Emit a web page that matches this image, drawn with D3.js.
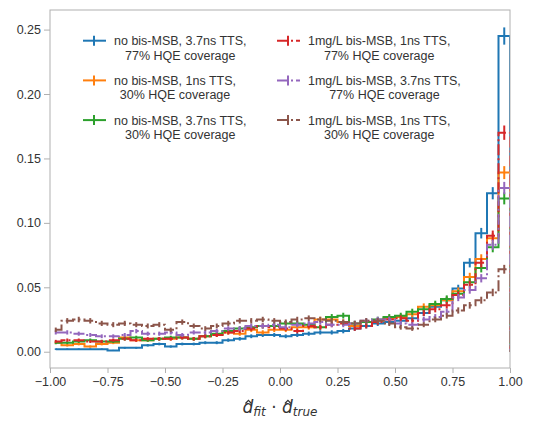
<!DOCTYPE html>
<html>
<head>
<meta charset="utf-8">
<script src="https://cdn.jsdelivr.net/npm/d3@7"></script>
<style>
body { margin: 0; background: #fff; }
</style>
</head>
<body>
<script>
// bins of width 0.05 over [-1, 1]
var binEdges = d3.range(41).map(function (i) { return +(-1 + i * 0.05).toFixed(2); });
var xTicks = [-1, -0.75, -0.5, -0.25, 0, 0.25, 0.5, 0.75, 1];
var yTicks = [0, 0.05, 0.10, 0.15, 0.20, 0.25];

var noMSB37ns77 = [0.002,0.002,0.002,0.002,0.002,0.001,0.003,0.003,0.005,0.006,0.004,0.006,0.006,0.007,0.007,0.009,0.010,0.012,0.013,0.013,0.012,0.013,0.014,0.015,0.015,0.016,0.018,0.020,0.022,0.023,0.024,0.026,0.030,0.035,0.040,0.049,0.069,0.092,0.123,0.245];
var noMSB1ns30 = [0.007,0.005,0.006,0.004,0.006,0.007,0.011,0.009,0.009,0.010,0.010,0.011,0.010,0.012,0.013,0.015,0.014,0.017,0.015,0.017,0.017,0.019,0.019,0.025,0.025,0.023,0.020,0.023,0.024,0.026,0.027,0.029,0.035,0.036,0.040,0.047,0.058,0.072,0.088,0.139];
var noMSB37ns30 = [0.007,0.007,0.008,0.009,0.008,0.008,0.010,0.011,0.009,0.010,0.011,0.011,0.010,0.012,0.014,0.016,0.018,0.019,0.020,0.020,0.022,0.022,0.021,0.019,0.027,0.028,0.022,0.023,0.025,0.027,0.028,0.031,0.033,0.037,0.041,0.045,0.054,0.065,0.081,0.119];
var msb1ns77 = [0.008,0.009,0.009,0.008,0.008,0.009,0.010,0.009,0.010,0.010,0.010,0.011,0.010,0.012,0.013,0.015,0.016,0.018,0.020,0.019,0.018,0.016,0.020,0.019,0.021,0.022,0.018,0.020,0.023,0.025,0.026,0.024,0.030,0.033,0.036,0.044,0.052,0.069,0.090,0.170];
var msb37ns77 = [0.015,0.015,0.014,0.013,0.012,0.012,0.013,0.016,0.014,0.014,0.015,0.013,0.015,0.015,0.016,0.018,0.018,0.020,0.020,0.021,0.019,0.021,0.022,0.023,0.021,0.021,0.022,0.024,0.025,0.025,0.022,0.021,0.025,0.027,0.031,0.042,0.048,0.057,0.083,0.127];
var msb1ns30 = [0.017,0.024,0.025,0.024,0.022,0.021,0.022,0.021,0.020,0.021,0.017,0.023,0.020,0.018,0.020,0.022,0.024,0.024,0.025,0.024,0.023,0.025,0.026,0.025,0.024,0.023,0.022,0.024,0.024,0.022,0.019,0.018,0.021,0.025,0.028,0.032,0.036,0.040,0.046,0.064];

var labels = [
    ["no bis-MSB, 3.7ns TTS,", "77% HQE coverage"],
    ["no bis-MSB, 1ns TTS,", "30% HQE coverage"],
    ["no bis-MSB, 3.7ns TTS,", "30% HQE coverage"],
    ["1mg/L bis-MSB, 1ns TTS,", "77% HQE coverage"],
    ["1mg/L bis-MSB, 3.7ns TTS,", "77% HQE coverage"],
    ["1mg/L bis-MSB, 1ns TTS,", "30% HQE coverage"]
];
var values = [noMSB37ns77, noMSB1ns30, noMSB37ns30, msb1ns77, msb37ns77, msb1ns30];
var colors = ["#1f77b4", "#ff7f0e", "#2ca02c", "#d62728", "#9467bd", "#8c564b"];
var dashed = [false, false, false, true, true, true];

var w = 538;
var h = 423;
var pLeft = 50, pRight = 510, pTop = 10, pBottom = 368;
var dashPattern = "11,3,2,3";
var errScale = 0.0135; // poisson-like error bar size
var axisColor = "#b0b0b0";
var textColor = "#333";

var svg = d3.select("body")
    .append("svg")
    .attr("width", w)
    .attr("height", h)
    .style("font-family", "'Liberation Sans', Arial, sans-serif");

var x = d3.scaleLinear().domain([-1, 1]).range([pLeft, pRight]);
var y = d3.scaleLinear().domain([-0.01263, 0.2652]).range([pBottom, pTop]);

svg.append("clipPath").attr("id", "plotclip")
    .append("rect")
    .attr("x", pLeft).attr("y", pTop)
    .attr("width", pRight - pLeft).attr("height", pBottom - pTop);

// axes
var yAxis = svg.append("g")
    .attr("transform", "translate(" + pLeft + ",0)")
    .call(d3.axisLeft(y).tickValues(yTicks).tickFormat(d3.format(".2f")).tickSize(6).tickSizeOuter(0).tickPadding(3));
var xAxis = svg.append("g")
    .attr("transform", "translate(0," + pBottom + ")")
    .call(d3.axisBottom(x).tickValues(xTicks).tickFormat(d3.format(".2f")).tickSize(5).tickSizeOuter(0).tickPadding(4));

[yAxis, xAxis].forEach(function (g) {
    g.select(".domain").remove();
    g.selectAll(".tick line").attr("stroke", axisColor).attr("stroke-width", 1);
    g.selectAll(".tick text").attr("fill", textColor).style("font-size", "12.5px")
        .style("font-family", "'Liberation Sans', Arial, sans-serif");
});

// histograms
var plot = svg.append("g").attr("clip-path", "url(#plotclip)");

var line = d3.line()
    .x(function (d) { return x(d[0]); })
    .y(function (d) { return y(d[1]); })
    .curve(d3.curveStepAfter);

values.forEach(function (vals, s) {
    var centers = vals.map(function (v, i) { return (binEdges[i] + binEdges[i + 1]) / 2; });
    var pts = [[centers[0], vals[0]]];
    for (var i = 1; i < vals.length; i++) {
        pts.push([binEdges[i], vals[i]]);
    }
    pts.push([binEdges[binEdges.length - 1], 0]);

    plot.append("path")
        .attr("d", line(pts))
        .attr("fill", "none")
        .attr("stroke", colors[s])
        .attr("stroke-width", 2)
        .attr("stroke-dasharray", dashed[s] ? dashPattern : null);

    plot.selectAll(".err" + s)
        .data(vals)
        .enter()
        .append("line")
        .attr("class", "err" + s)
        .attr("x1", function (d, i) { return x(centers[i]); })
        .attr("x2", function (d, i) { return x(centers[i]); })
        .attr("y1", function (d) { return y(d - errScale * Math.sqrt(d)); })
        .attr("y2", function (d) { return y(d + errScale * Math.sqrt(d)); })
        .attr("stroke", colors[s])
        .attr("stroke-width", 2);
});

// frame
svg.append("rect")
    .attr("x", pLeft).attr("y", pTop)
    .attr("width", pRight - pLeft).attr("height", pBottom - pTop)
    .attr("fill", "none")
    .attr("stroke", axisColor)
    .attr("stroke-width", 1);

// legend
var colX = [83, 277];
var rowY = [40.7, 80.4, 120.1];
var handleLen = 23;
var legend = svg.append("g");

labels.forEach(function (lab, s) {
    var col = s < 3 ? 0 : 1;
    var row = s % 3;
    var hx = colX[col], hy = rowY[row];
    legend.append("line")
        .attr("x1", hx).attr("x2", hx + handleLen)
        .attr("y1", hy).attr("y2", hy)
        .attr("stroke", colors[s]).attr("stroke-width", 2)
        .attr("stroke-dasharray", dashed[s] ? dashPattern : null);
    legend.append("line")
        .attr("x1", hx + handleLen / 2 - 0.5).attr("x2", hx + handleLen / 2 - 0.5)
        .attr("y1", hy - 5).attr("y2", hy + 5)
        .attr("stroke", colors[s]).attr("stroke-width", 2);

    var tx = hx + handleLen + 8;
    var t = legend.append("text")
        .attr("fill", textColor)
        .style("font-size", "12.5px")
        .attr("text-anchor", "middle");
    var t1 = t.append("tspan").attr("y", hy + 4.5).text(lab[0]);
    var t2 = t.append("tspan").attr("y", hy + 18.8).text(lab[1]);
    var wmax = Math.max(t1.node().getComputedTextLength(), t2.node().getComputedTextLength());
    t1.attr("x", tx + wmax / 2);
    t2.attr("x", tx + wmax / 2);
});

// x axis label: d-hat_fit . d-hat_true
var xl = svg.append("text")
    .attr("x", (pLeft + pRight) / 2)
    .attr("y", 413)
    .attr("text-anchor", "middle")
    .attr("fill", textColor)
    .style("font-family", "'DejaVu Sans', sans-serif")
    .style("font-size", "17px");
xl.append("tspan").style("font-style", "italic").text("d");
xl.append("tspan").style("font-style", "italic").style("font-size", "12px").attr("dy", 3).text("fit");
xl.append("tspan").attr("dy", -3).text(" \u00b7 ");
xl.append("tspan").style("font-style", "italic").text("d");
xl.append("tspan").style("font-style", "italic").style("font-size", "12px").attr("dy", 3).text("true");

// hats over the two d's
[0, 7].forEach(function (ci) {
    var p = xl.node().getStartPositionOfChar(ci);
    var e = xl.node().getExtentOfChar(ci);
    var cx = p.x + e.width * 0.5 + 0.5;
    svg.append("path")
        .attr("d", "M" + (cx - 3) + ",403.5L" + cx + ",400.3L" + (cx + 3) + ",403.5")
        .attr("fill", "none")
        .attr("stroke", textColor)
        .attr("stroke-width", 1.2);
});
</script>
</body>
</html>
